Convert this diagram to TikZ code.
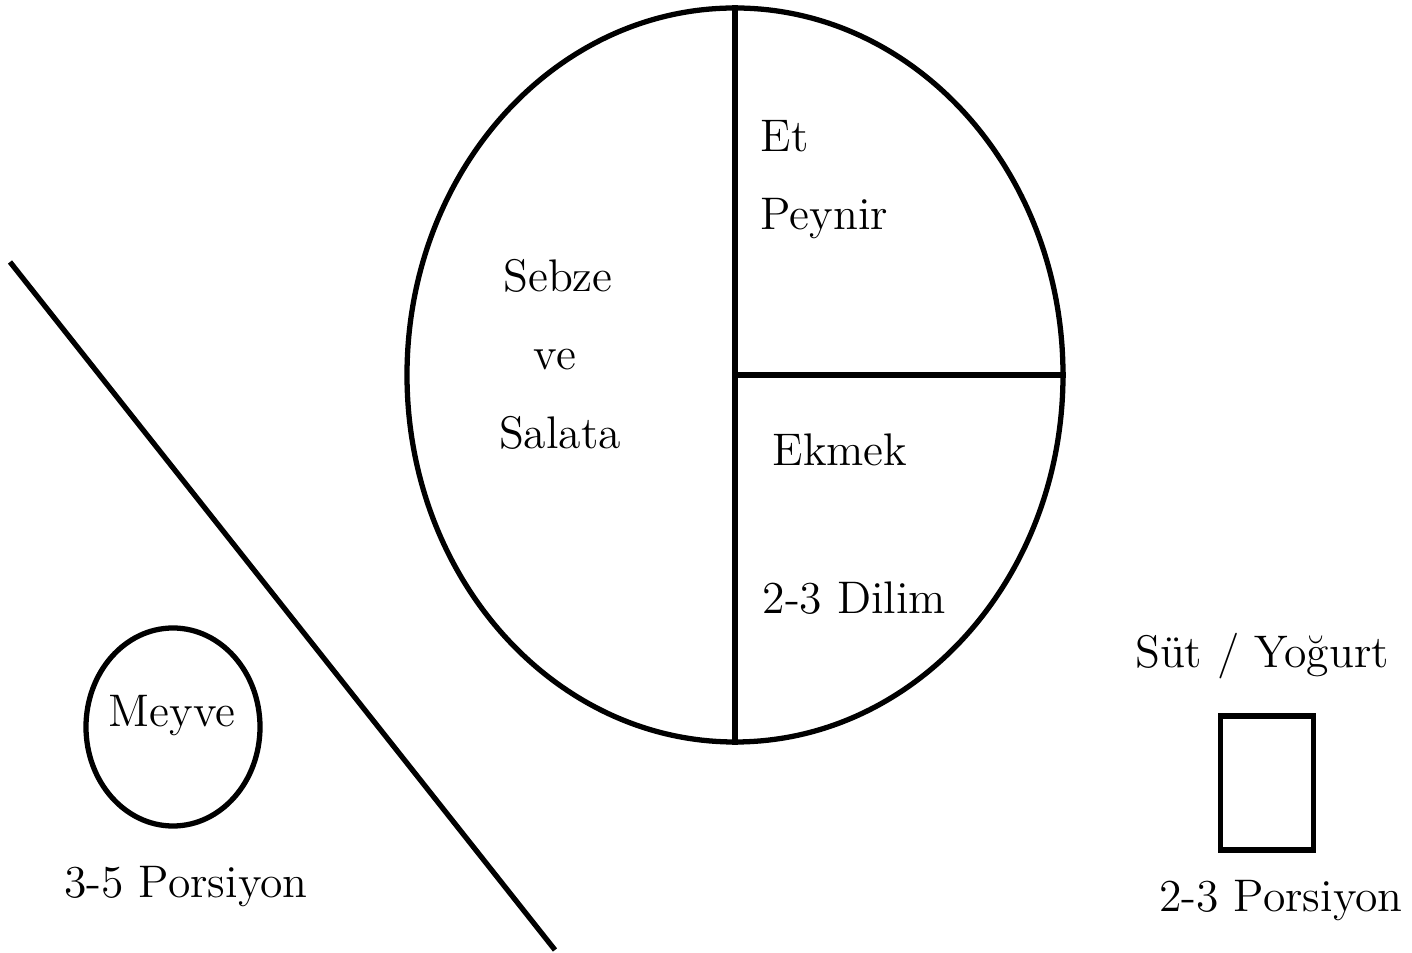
\documentclass[tikz,border=0pt]{standalone}
\usepackage{tikz}
\usetikzlibrary{shapes.geometric, positioning}

\begin{document}
\begin{tikzpicture}[line width=1.5pt,
    label/.style={inner sep=0pt, font=\fontsize{13}{15}\selectfont},
    plate/.style={draw, ellipse, inner sep=0pt}]
    \useasboundingbox (0,0) rectangle (14.12,9.53);

    % 1. Tabak
    \node[plate, minimum width=6.56cm, minimum height=7.34cm] (tabak) at (7.35,5.78) {};
    \draw (tabak.north) -- (tabak.south);
    \draw (tabak.center) -- (tabak.east);

    % 2. Yazilar
    \node[label, anchor=base west] (et) at (7.58,8.01) {Et};
    \node[label, anchor=base west] (peynir) at (7.58,7.23) {Peynir};
    \node[label, anchor=base] (sebze) at (5.58,6.61) {Sebze};
    \node[label, anchor=base] (ve) at (5.55,5.83) {ve};
    \node[label, anchor=base] (salata) at (5.60,5.04) {Salata};
    \node[label, anchor=base west] (ekmek) at (7.70,4.87) {Ekmek};
    \node[label, anchor=base west] (dilim) at (7.60,3.39) {2-3 Dilim};

    % 3. Ayirici cizgi
    \coordinate (c1) at (0.10,6.91);
    \coordinate (c2) at (5.55,0.03);
    \draw (c1) -- (c2);

    % 4. Meyve
    \node[plate, minimum width=1.74cm, minimum height=1.98cm] (meyve) at (1.73,2.26) {};
    \node[label, anchor=base] (meyvetxt) at (1.72,2.26) {Meyve};
    \node[label, anchor=base] (meyvepor) at (1.86,0.55) {3-5 Porsiyon};

    % 5. Sut / Yogurt
    \node[draw, inner sep=0pt, minimum width=0.93cm, minimum height=1.34cm] (bardak) at (12.67,1.70) {};
    \node[label, anchor=base] (sut) at (12.62,2.85) {Süt / Yoğurt};
    \node[label, anchor=base] (sutpor) at (12.81,0.41) {2-3 Porsiyon};
\end{tikzpicture}
\end{document}
